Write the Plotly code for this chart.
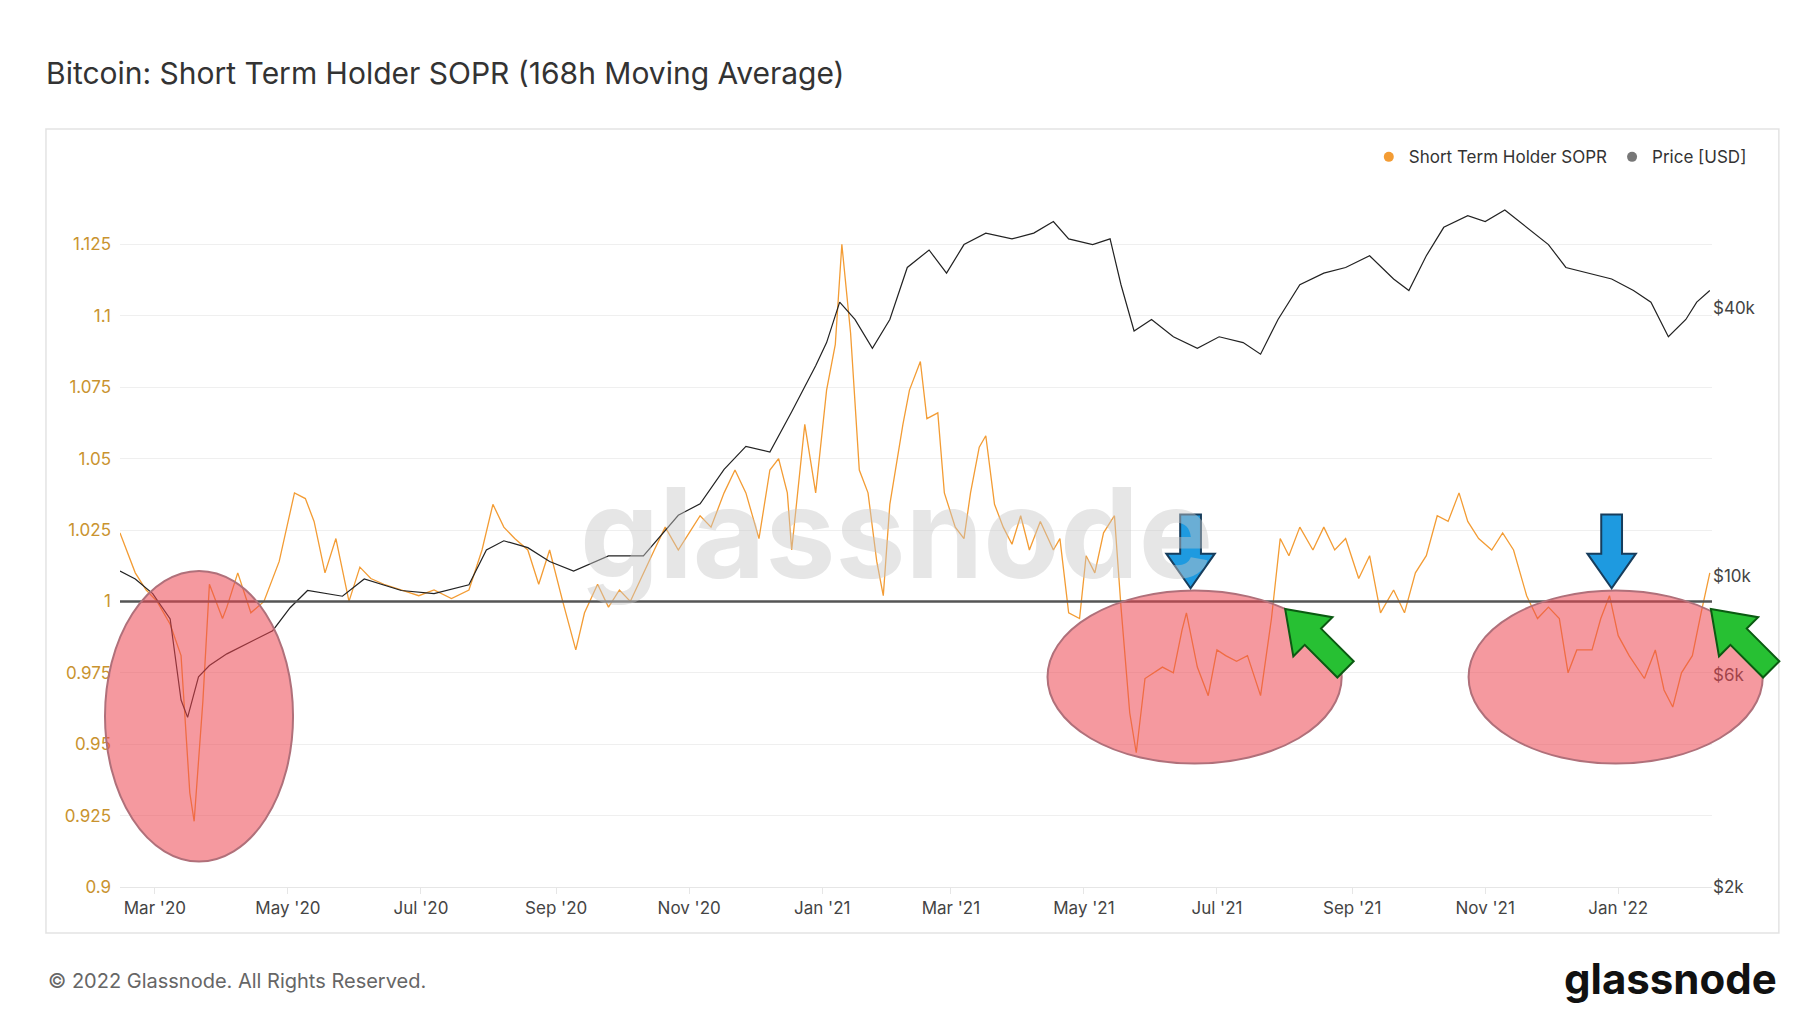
import math
import plotly.graph_objects as go

# Short Term Holder SOPR (168h MA)
sopr_dates = [
    "2020-02-14", "2020-02-21", "2020-02-26", "2020-03-02", "2020-03-08", "2020-03-13", "2020-03-17", "2020-03-19",
    "2020-03-23", "2020-03-26", "2020-04-01", "2020-04-03", "2020-04-08", "2020-04-14", "2020-04-20", "2020-04-27",
    "2020-05-04", "2020-05-09", "2020-05-13", "2020-05-18", "2020-05-23", "2020-05-29", "2020-06-03", "2020-06-08",
    "2020-06-14", "2020-06-22", "2020-06-30", "2020-07-07", "2020-07-15", "2020-07-23", "2020-07-29", "2020-08-03",
    "2020-08-08", "2020-08-13", "2020-08-19", "2020-08-24", "2020-08-29", "2020-09-04", "2020-09-10", "2020-09-14",
    "2020-09-20", "2020-09-25", "2020-09-30", "2020-10-05", "2020-10-11", "2020-10-16", "2020-10-21", "2020-10-27",
    "2020-11-01", "2020-11-06", "2020-11-11", "2020-11-17", "2020-11-22", "2020-11-27", "2020-12-03", "2020-12-08",
    "2020-12-12", "2020-12-16", "2020-12-18", "2020-12-24", "2020-12-29", "2021-01-03", "2021-01-07", "2021-01-10",
    "2021-01-14", "2021-01-18", "2021-01-22", "2021-01-26", "2021-01-29", "2021-02-01", "2021-02-07", "2021-02-10",
    "2021-02-15", "2021-02-18", "2021-02-23", "2021-02-26", "2021-03-03", "2021-03-07", "2021-03-10", "2021-03-14",
    "2021-03-17", "2021-03-21", "2021-03-25", "2021-03-29", "2021-04-02", "2021-04-06", "2021-04-11", "2021-04-17",
    "2021-04-20", "2021-04-24", "2021-04-29", "2021-05-02", "2021-05-06", "2021-05-10", "2021-05-15", "2021-05-18",
    "2021-05-22", "2021-05-25", "2021-05-29", "2021-06-02", "2021-06-06", "2021-06-11", "2021-06-15", "2021-06-17",
    "2021-06-22", "2021-06-27", "2021-07-01", "2021-07-05", "2021-07-10", "2021-07-15", "2021-07-21", "2021-07-26",
    "2021-07-30", "2021-08-03", "2021-08-08", "2021-08-14", "2021-08-19", "2021-08-24", "2021-08-29", "2021-09-04",
    "2021-09-09", "2021-09-14", "2021-09-20", "2021-09-25", "2021-09-30", "2021-10-05", "2021-10-10", "2021-10-15",
    "2021-10-20", "2021-10-24", "2021-10-29", "2021-11-04", "2021-11-09", "2021-11-14", "2021-11-20", "2021-11-25",
    "2021-11-30", "2021-12-05", "2021-12-09", "2021-12-13", "2021-12-20", "2021-12-24", "2021-12-28", "2022-01-01",
    "2022-01-06", "2022-01-13", "2022-01-18", "2022-01-22", "2022-01-26", "2022-01-30", "2022-02-04", "2022-02-08",
    "2022-02-12",
]
sopr_values = [
    1.024, 1.010, 1.004, 1.000, 0.992, 0.981, 0.933, 0.923, 0.965, 1.006, 0.994, 0.998, 1.010, 0.996, 1.000, 1.014,
    1.038, 1.036, 1.028, 1.010, 1.022, 1.000, 1.012, 1.008, 1.006, 1.004, 1.002, 1.004, 1.001, 1.004, 1.018, 1.034,
    1.026, 1.022, 1.018, 1.006, 1.018, 1.000, 0.983, 0.996, 1.006, 0.998, 1.004, 1.000, 1.010, 1.018, 1.026, 1.018,
    1.024, 1.030, 1.026, 1.038, 1.046, 1.038, 1.022, 1.046, 1.050, 1.038, 1.018, 1.062, 1.038, 1.074, 1.090, 1.125,
    1.094, 1.046, 1.038, 1.014, 1.002, 1.034, 1.062, 1.074, 1.084, 1.064, 1.066, 1.038, 1.026, 1.022, 1.038, 1.054,
    1.058, 1.034, 1.026, 1.020, 1.030, 1.018, 1.028, 1.018, 1.022, 0.996, 0.994, 1.016, 1.010, 1.024, 1.030, 0.998,
    0.961, 0.947, 0.973, 0.975, 0.977, 0.975, 0.990, 0.996, 0.977, 0.967, 0.983, 0.981, 0.979, 0.981, 0.967, 0.994,
    1.022, 1.016, 1.026, 1.018, 1.026, 1.018, 1.022, 1.008, 1.016, 0.996, 1.004, 0.996, 1.010, 1.016, 1.030, 1.028,
    1.038, 1.028, 1.022, 1.018, 1.024, 1.018, 1.002, 0.994, 0.998, 0.994, 0.975, 0.983, 0.983, 0.994, 1.002, 0.988,
    0.981, 0.973, 0.983, 0.969, 0.963, 0.975, 0.981, 0.996, 1.010,
]

# BTC price [USD]
price_dates = [
    "2020-02-14", "2020-02-21", "2020-02-29", "2020-03-08", "2020-03-13", "2020-03-16", "2020-03-21", "2020-03-26",
    "2020-04-03", "2020-04-14", "2020-04-24", "2020-05-02", "2020-05-10", "2020-05-26", "2020-06-05", "2020-06-22",
    "2020-07-07", "2020-07-23", "2020-07-31", "2020-08-08", "2020-08-19", "2020-08-29", "2020-09-09", "2020-09-25",
    "2020-10-11", "2020-10-27", "2020-11-06", "2020-11-17", "2020-11-27", "2020-12-08", "2020-12-18", "2020-12-29",
    "2021-01-03", "2021-01-09", "2021-01-16", "2021-01-24", "2021-02-01", "2021-02-09", "2021-02-19", "2021-02-27",
    "2021-03-07", "2021-03-17", "2021-03-29", "2021-04-08", "2021-04-17", "2021-04-24", "2021-05-05", "2021-05-13",
    "2021-05-18", "2021-05-24", "2021-06-01", "2021-06-11", "2021-06-22", "2021-07-02", "2021-07-13", "2021-07-21",
    "2021-07-29", "2021-08-08", "2021-08-19", "2021-08-29", "2021-09-09", "2021-09-20", "2021-09-27", "2021-10-05",
    "2021-10-13", "2021-10-24", "2021-11-01", "2021-11-10", "2021-11-20", "2021-11-30", "2021-12-08", "2021-12-18",
    "2021-12-29", "2022-01-08", "2022-01-16", "2022-01-24", "2022-02-01", "2022-02-06", "2022-02-12",
]
price_values = [
    10250, 9840, 9120, 8000, 5260, 4810, 5930, 6290, 6680, 7100, 7530, 8480, 9270, 9000, 9840, 9270,
    9120, 9550, 11430, 11990, 11570, 10770, 10250, 11090, 11090, 13680, 14520, 17350, 19540, 18970, 23370, 29660,
    33420, 41200, 37670, 32460, 37670, 49290, 53950, 47860, 55490, 58870, 57150, 58870, 62520, 57150, 55490, 57150,
    45080, 35480, 37670, 34440, 32460, 34440, 33420, 31480, 37670, 45080, 47860, 49290, 52360, 46450, 43750, 52360,
    60670, 64420, 62520, 66370, 60670, 55490, 49290, 47860, 46450, 43750, 41200, 34440, 37670, 41200, 43750,
]

x_tick_dates = ["2020-03-01", "2020-05-01", "2020-07-01", "2020-09-01", "2020-11-01", "2021-01-01",
                "2021-03-01", "2021-05-01", "2021-07-01", "2021-09-01", "2021-11-01", "2022-01-01"]
x_tick_labels = ["Mar '20", "May '20", "Jul '20", "Sep '20", "Nov '20", "Jan '21",
                 "Mar '21", "May '21", "Jul '21", "Sep '21", "Nov '21", "Jan '22"]
sopr_ticks = [0.9, 0.925, 0.95, 0.975, 1, 1.025, 1.05, 1.075, 1.1, 1.125]
sopr_tick_labels = ["0.9", "0.925", "0.95", "0.975", "1", "1.025", "1.05", "1.075", "1.1", "1.125"]
price_ticks = [2000, 6000, 10000, 40000]
price_tick_labels = ["$2k", "$6k", "$10k", "$40k"]

ORANGE = "#f39c34"
GREY = "#777777"
FONT = "Inter"

fig = go.Figure()
fig.add_trace(go.Scatter(x=price_dates, y=price_values, mode="lines", yaxis="y2",
                         line=dict(color="#222222", width=1.2), showlegend=False))
fig.add_trace(go.Scatter(x=sopr_dates, y=sopr_values, mode="lines",
                         line=dict(color=ORANGE, width=1.3), showlegend=False))
# legend entries (dots)
fig.add_trace(go.Scatter(x=[None], y=[None], mode="markers", name="Short Term Holder SOPR",
                         marker=dict(color=ORANGE, size=10)))
fig.add_trace(go.Scatter(x=[None], y=[None], mode="markers", name="Price [USD]",
                         marker=dict(color=GREY, size=10)))

# pixel helpers for the drawn annotations (reference pixel space of the plot frame)
def px(x):
    return (x - 97) / 1380

def py(y):
    return (762 - y) / 619

def arrow_path(tip, angle, length, shaft_w, head_w, head_len):
    # angle: direction from tail to tip, in degrees (screen coords, y down)
    a = math.radians(angle)
    ux, uy = math.cos(a), math.sin(a)
    nx, ny = -uy, ux
    tx, ty = tip
    pts_local = [(0, 0), (-head_len, head_w / 2), (-head_len, shaft_w / 2), (-length, shaft_w / 2),
                 (-length, -shaft_w / 2), (-head_len, -shaft_w / 2), (-head_len, -head_w / 2)]
    pts = [(tx + ux * s + nx * t, ty + uy * s + ny * t) for s, t in pts_local]
    return "M " + " L ".join(f"{px(x):.5f},{py(y):.5f}" for x, y in pts) + " Z"

shapes = [
    # outer frame
    dict(type="rect", xref="paper", yref="paper", x0=-0.0465, x1=1.042, y0=-0.0644, y1=1.0616,
         line=dict(color="#e3e3e3", width=1.5), layer="below"),
    # 1.0 line
    dict(type="line", xref="paper", yref="y", x0=0, x1=1, y0=1, y1=1,
         line=dict(color="#555555", width=2.5)),
]
for x0, x1, y0, y1 in [(84, 247, 488, 740), (901, 1156, 505, 655), (1266, 1521, 505, 655)]:
    shapes.append(dict(type="circle", xref="paper", yref="paper", x0=px(x0), x1=px(x1), y0=py(y1), y1=py(y0),
                       fillcolor="rgba(236,70,80,0.55)", line=dict(color="#b0707a", width=2), layer="above"))
for tipx in [1025, 1390]:
    shapes.append(dict(type="path", xref="paper", yref="paper",
                       path=arrow_path((tipx, 503), 90, 64, 18, 42, 30),
                       fillcolor="#1e9ae0", line=dict(color="#173d5c", width=2), layer="above"))
for tip in [(1107, 521), (1476, 521)]:
    shapes.append(dict(type="path", xref="paper", yref="paper",
                       path=arrow_path(tip, 225, 74, 20, 48, 34),
                       fillcolor="#27c033", line=dict(color="#0b5a12", width=2), layer="above"))

fig.update_layout(
    width=1800, height=1013,
    margin=dict(l=112, r=96, t=165, b=134),
    paper_bgcolor="white", plot_bgcolor="white",
    font=dict(family=FONT, size=17, color="#444444"),
    title=dict(text="Bitcoin: Short Term Holder SOPR (168h Moving Average)", x=38 / 1800, xanchor="left",
               y=1 - 65 / 1013, yanchor="middle", font=dict(size=30, color="#333333", family=FONT)),
    legend=dict(orientation="h", x=1.025, xanchor="right", y=1.022, yanchor="middle",
                font=dict(size=17, color="#333333"), bgcolor="rgba(0,0,0,0)", itemwidth=30),
    xaxis=dict(range=["2020-02-14", "2022-02-13"], tickvals=x_tick_dates, ticktext=x_tick_labels,
               showgrid=False, ticks="outside", ticklen=6, tickcolor="#e6e6e6", showline=True,
               linecolor="#e6e6e6", zeroline=False),
    yaxis=dict(range=[0.9, 1.15], tickvals=sopr_ticks, ticktext=sopr_tick_labels, showgrid=True,
               gridcolor="#efefef", zeroline=False, tickfont=dict(color="#c9932f"),
               ticklabelposition="outside", ticklabelstandoff=8),
    yaxis2=dict(type="log", range=[math.log10(2000), 4.905], overlaying="y", side="right",
                tickvals=price_ticks, ticktext=price_tick_labels, showgrid=False, zeroline=False,
                tickfont=dict(color="#444444")),
    shapes=shapes,
    annotations=[
        dict(text="<b>glassnode</b>", xref="paper", yref="paper", x=0.488, y=0.496, showarrow=False,
             font=dict(size=125, color="rgba(200,200,200,0.45)", family=FONT)),
        dict(text="© 2022 Glassnode. All Rights Reserved.", xref="paper", yref="paper",
             x=-0.0465, xanchor="left", y=(879 - 973) / 714, yanchor="middle", showarrow=False,
             font=dict(size=20, color="#666666")),
        dict(text="<b>glassnode</b>", xref="paper", yref="paper", x=1.042, xanchor="right",
             y=(879 - 970) / 714, yanchor="middle", showarrow=False,
             font=dict(size=42, color="#111111", family=FONT)),
    ],
)

fig.write_html("out.html")
